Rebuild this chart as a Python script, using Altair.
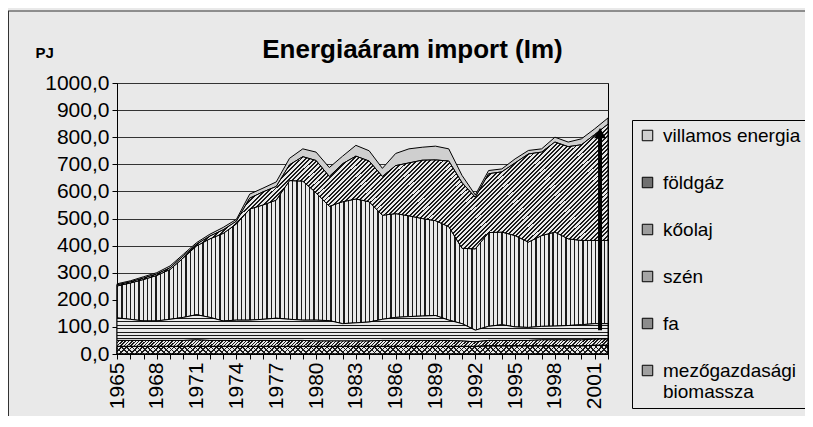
import altair as alt
import pandas as pd

years = list(range(1965, 2003))

mezogazdasagi = [28, 28, 28, 28, 28, 28, 28, 28, 28, 28, 28, 28, 28, 28, 28, 28, 28, 28, 28,
                 28, 28, 28, 28, 28, 28, 28, 28, 28, 30, 30, 30, 30, 30, 30, 30, 30, 32, 32]
fa = [22, 22, 22, 22, 22, 22, 24, 22, 22, 22, 22, 22, 22, 22, 22, 20, 20, 20, 20,
      20, 22, 22, 22, 22, 22, 22, 20, 17, 20, 20, 20, 20, 22, 22, 22, 22, 23, 23]
szen = [83, 78, 72, 72, 78, 85, 93, 85, 72, 75, 75, 78, 82, 78, 75, 77, 75, 64, 67,
        70, 78, 85, 88, 90, 92, 75, 64, 43, 52, 58, 50, 48, 50, 51, 53, 56, 57, 57]
koolaj = [118, 134, 153, 168, 184, 220, 254, 290, 323, 355, 410, 422, 436, 512, 513, 470, 422, 450, 457,
          444, 384, 383, 372, 360, 350, 345, 278, 300, 346, 342, 337, 315, 335, 347, 320, 311, 307, 307]
foldgaz = [4, 4, 5, 5, 6, 7, 6, 10, 13, 10, 40, 48, 50, 58, 90, 119, 110, 140, 158,
           150, 143, 177, 195, 215, 224, 242, 242, 190, 217, 222, 268, 325, 308, 332, 340, 353, 391, 429]
villamos = [4, 4, 5, 5, 7, 6, 6, 7, 9, 7, 15, 14, 17, 24, 29, 31, 33, 28, 40,
            38, 30, 45, 52, 48, 51, 45, 27, 9, 12, 11, 15, 13, 12, 18, 17, 22, 21, 23]

series_names = ["mezőgazdasági biomassza", "fa", "szén", "kőolaj", "földgáz", "villamos energia"]
series_values = [mezogazdasagi, fa, szen, koolaj, foldgaz, villamos]
legend_order = list(reversed(series_names))
legend_colors = ["#cfcfcf", "#707070", "#9d9d9d", "#a5a5a5", "#8c8c8c", "#a0a0a0"]

y_ticks = list(range(0, 1001, 100))

arrow_x = [2001.4]
arrow_from = [88]
arrow_to = [815]

rows = []
for i, (name, vals) in enumerate(zip(series_names, series_values)):
    for yr, v in zip(years, vals):
        rows.append({"year": yr, "series": name, "value": v, "order": i})
df = pd.DataFrame(rows)
arrow_df = pd.DataFrame({"year": arrow_x, "y0": arrow_from, "y1": arrow_to})

FONT = "Liberation Sans"
PAPER = "#e9e9e9"
DARK = "#1a1a1a"
CLEAR = "rgba(0,0,0,0)"


def stripes(n, frac, x1, y1, x2, y2, dark=DARK, light=PAPER):
    stops = []
    for i in range(n):
        a = round(i / n, 5)
        b = round((i + frac) / n, 5)
        c = round(min((i + 1) / n, 1.0), 5)
        stops += [
            {"offset": a, "color": dark},
            {"offset": b, "color": dark},
            {"offset": b, "color": light},
            {"offset": c, "color": light},
        ]
    return {"gradient": "linear", "x1": x1, "y1": y1, "x2": x2, "y2": y2, "stops": stops}


x_scale = alt.Scale(domain=[1965, 2002], nice=False, zero=False)
y_scale = alt.Scale(domain=[0, 1000], nice=False)

x_axis = alt.Axis(
    title=None,
    values=years,
    format="d",
    labelExpr="(datum.value - 1965) % 3 == 0 ? toString(datum.value) : ''",
    labelAngle=-90,
    labelFontSize=21,
    labelFont=FONT,
    labelColor="black",
    labelPadding=3,
    labelOverlap=False,
    labelFlush=False,
    labelBound=False,
    tickSize=5,
    tickColor="black",
    domainColor="black",
    grid=False,
)
y_axis = alt.Axis(
    title="PJ",
    titleAngle=0,
    titleX=-82,
    titleY=-26,
    titleAlign="left",
    titleBaseline="alphabetic",
    titleFont=FONT,
    titleFontSize=15,
    titleFontWeight="bold",
    titleColor="black",
    values=y_ticks,
    labelExpr="replace(format(datum.value, '.1f'), '.', ',')",
    labelFontSize=21,
    labelFont=FONT,
    labelColor="black",
    labelPadding=3,
    labelOverlap=False,
    tickSize=5,
    tickColor="black",
    domainColor="black",
    grid=True,
    gridColor="#333333",
    gridWidth=1,
)

x_enc = alt.X("year:Q", scale=x_scale, axis=x_axis)
y_enc = alt.Y("y1:Q", scale=y_scale, axis=y_axis)

base = alt.Chart(df).transform_stack(
    stack="value",
    groupby=["year"],
    as_=["y0", "y1"],
    sort=[alt.SortField("order", order="ascending")],
)

main = base.mark_area(stroke="black", strokeWidth=1, opacity=1).encode(
    x=x_enc,
    y=y_enc,
    y2="y0:Q",
    fill=alt.Fill(
        "series:N",
        scale=alt.Scale(domain=legend_order, range=legend_colors),
        legend=alt.Legend(
            title=None,
            orient="none",
            legendX=515,
            legendY=37,
            labelFont=FONT,
            labelFontSize=19,
            labelColor="black",
            labelLimit=400,
            labelOffset=6,
            labelExpr="datum.label == 'mezőgazdasági biomassza' ? ['mezőgazdasági', 'biomassza'] : datum.label",
            symbolType="square",
            symbolSize=110,
            symbolStrokeColor="black",
            symbolStrokeWidth=1,
            symbolOpacity=1,
            rowPadding=27,
            padding=6,
            strokeColor="black",
            fillColor=PAPER,
        ),
    ),
    order=alt.Order("order:Q"),
)


def overlay(name, fill, stroke_width=1):
    return base.transform_filter(alt.datum.series == name).mark_area(
        fill=fill, stroke="black", strokeWidth=stroke_width, opacity=1
    ).encode(x=x_enc, y=y_enc, y2="y0:Q")


oil = overlay("kőolaj", stripes(115, 0.3, 0, 0, 1, 0))
gas = overlay("földgáz", stripes(150, 0.45, 0, 0, 1.2, 0.4))
coal = overlay("szén", stripes(8, 0.3, 0, 0, 0, 1))
wood = overlay("fa", stripes(150, 0.45, 0, 0, 1.02, 0.016))
agri_a = overlay("mezőgazdasági biomassza", stripes(95, 0.3, 0, 0, 1.02, 0.018))
agri_b = overlay("mezőgazdasági biomassza", stripes(95, 0.3, 0, 1, 1.02, 0.982, light=CLEAR))

arrow_line = alt.Chart(arrow_df).mark_rule(strokeWidth=4, color="black").encode(
    x=x_enc, y=alt.Y("y0:Q", scale=y_scale, axis=y_axis), y2="y1:Q"
)
arrow_head = alt.Chart(arrow_df).mark_point(
    shape="triangle-up", filled=True, size=140, color="black", opacity=1
).encode(x=x_enc, y=y_enc)

frame_df = pd.DataFrame({"frame": [0]})
frame_top = alt.Chart(frame_df).mark_rule(color="#333333", strokeWidth=1).encode(
    x=alt.value(-109), x2=alt.value(690), y=alt.value(-72)
)
frame_left = alt.Chart(frame_df).mark_rule(color="#333333", strokeWidth=1).encode(
    x=alt.value(-108.5), y=alt.value(-72), y2=alt.value(333)
)

chart = alt.layer(
    main, oil, gas, coal, wood, agri_a, agri_b, arrow_line, arrow_head, frame_top, frame_left
).properties(
    width=491,
    height=271,
    autosize=alt.AutoSizeParams(type="none"),
    padding={"left": 109, "top": 75, "right": 197, "bottom": 62},
    background=PAPER,
    title=alt.Title(
        "Energiaáram import (Im)",
        font=FONT,
        fontSize=26,
        fontWeight="bold",
        color="black",
        anchor="middle",
        dx=50,
        dy=72,
        offset=20,
    ),
).configure_view(stroke="black", strokeWidth=1, fill=PAPER).configure_axis(labelOverlap=False)

chart.save("out.html", embed_options={"renderer": "svg", "actions": False})
